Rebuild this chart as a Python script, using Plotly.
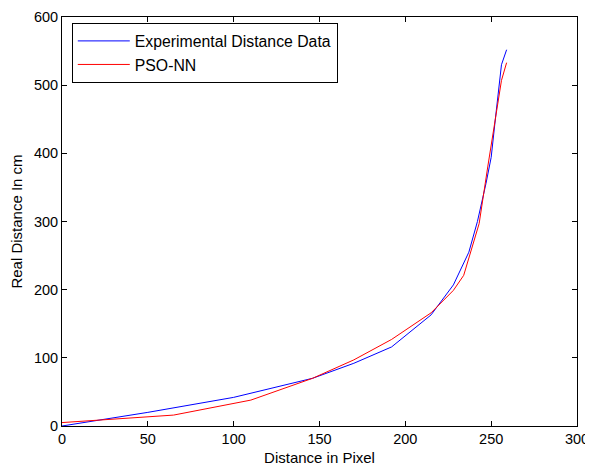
import plotly.graph_objects as go

exp_x = [0, 50, 100, 146, 170, 192, 215, 228, 237, 242, 247, 250, 253, 256, 259]
exp_y = [0, 20, 42, 70, 92, 116, 163, 207, 255, 300, 356, 394, 463, 530, 552]

pso_x = [0, 65, 110, 146, 170, 192, 215, 228, 234, 243, 248, 254, 256, 259]
pso_y = [5, 16, 38, 70, 97, 127, 166, 199, 221, 297, 380, 478, 507, 533]

x_ticks = [0, 50, 100, 150, 200, 250, 300]
y_ticks = [0, 100, 200, 300, 400, 500, 600]

fig = go.Figure()
fig.add_trace(go.Scatter(x=exp_x, y=exp_y, mode="lines", name="Experimental Distance Data",
                         line=dict(color="#0000ff", width=1)))
fig.add_trace(go.Scatter(x=pso_x, y=pso_y, mode="lines", name="PSO-NN",
                         line=dict(color="#ff0000", width=1)))

axis_common = dict(showgrid=False, zeroline=False, showline=True, linecolor="black", linewidth=1,
                   mirror="ticks", ticks="inside", ticklen=5, tickcolor="black",
                   tickfont=dict(size=14.5, color="black"), automargin=False)

fig.update_layout(
    width=585, height=460,
    margin=dict(l=54, r=16, t=9, b=42),
    paper_bgcolor="white", plot_bgcolor="white",
    font=dict(family="Liberation Sans, Arial, sans-serif", size=15, color="black"),
    xaxis=dict(range=[0, 300], tickvals=x_ticks,
               title=dict(text="Distance in Pixel", standoff=6, font=dict(size=15)), **axis_common),
    yaxis=dict(range=[0, 600], tickvals=y_ticks,
               title=dict(text="Real Distance In cm", standoff=17, font=dict(size=15)), **axis_common),
    legend=dict(x=0.019, y=0.985, xanchor="left", yanchor="top",
                bordercolor="black", borderwidth=1, bgcolor="white",
                font=dict(size=15.8), tracegroupgap=0, itemwidth=52),
    showlegend=True,
)

fig.write_html("out.html")
